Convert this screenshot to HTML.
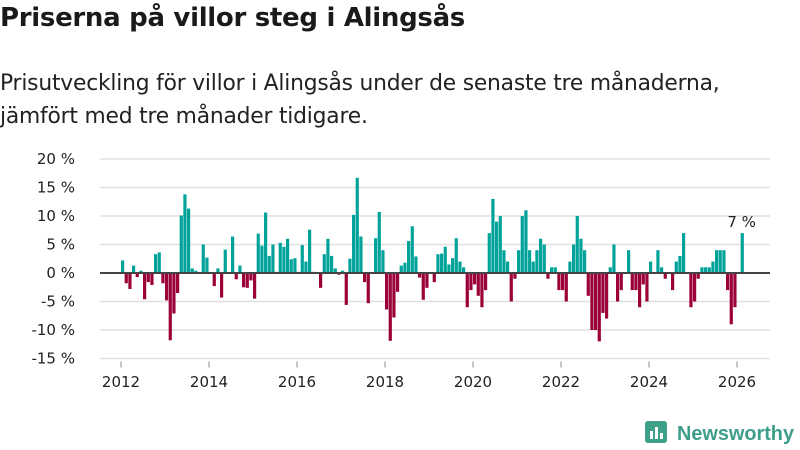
<!DOCTYPE html>
<html><head><meta charset="utf-8">
<style>
body{margin:0;width:800px;height:450px;background:#fff;font-family:"Liberation Sans","DejaVu Sans",sans-serif;overflow:hidden;position:relative}
h1{position:absolute;left:0;top:3px;margin:0;font-size:26px;font-weight:bold;color:#1a1a1a;font-family:"DejaVu Sans","Liberation Sans",sans-serif;letter-spacing:-0.3px}
.sub{position:absolute;left:0;top:67px;font-size:21.8px;line-height:33px;color:#222;font-family:"DejaVu Sans","Liberation Sans",sans-serif;letter-spacing:-0.2px}
svg{position:absolute;left:0;top:0}
</style></head><body>
<h1>Priserna på villor steg i Alingsås</h1>
<div class="sub">Prisutveckling för villor i Alingsås under de senaste tre månaderna,<br>jämfört med tre månader tidigare.</div>
<svg id="chart" width="800" height="450"></svg>
<script>
const startYear = 2012;
const values = [2.2,-1.8,-2.8,1.3,-0.7,0.4,-4.6,-1.6,-2.1,3.3,3.6,-1.8,-4.8,-11.8,-7.1,-3.5,10.1,13.8,11.3,0.8,0.4,0,5.0,2.7,0,-2.3,0.8,-4.3,4.1,0,6.4,-1.1,1.3,-2.5,-2.6,-1.3,-4.5,6.9,4.8,10.6,3.0,5.0,0.2,5.3,
4.6,6.0,2.4,2.6,0.2,4.9,2.0,7.6,0.2,0,-2.6,3.3,6.0,3.0,0.8,-0.3,0.4,-5.6,2.5,10.2,16.7,6.4,-1.6,-5.3,0,6.1,10.7,4.0,-6.4,-11.9,-7.8,-3.3,1.3,1.8,5.6,8.2,2.9,-0.8,-4.7,-2.6,0,-1.6,
3.3,3.4,4.6,1.5,2.6,6.1,2.0,1.0,-6,-3,-2,-4,-6,-3,7,13,9,10,4,2,-5,-1,4,10,11,4,2,4,6,5,-1,1,1,-3,-3,-5,2,5,10,6,4,-4,-10,-10,-12,-7,-8,
1,5,-5,-3,0,4,-3,-3,-6,-2,-5,2,0,4,1,-1,0,-3,2,3,7,0,-6,-5,-1,1,1,1,2,4,4,4,-3,-9,-6,0,7];
const yTicks = [20,15,10,5,0,-5,-10,-15];
const xTicks = [2012,2014,2016,2018,2020,2022,2024,2026];
const lastLabel = "7 %";
const NS="http://www.w3.org/2000/svg";
const svg=document.getElementById('chart');
const x=t=>121+(t-2012)*44;
const y=v=>273-v*5.7;
function mk(tag,a){const e=document.createElementNS(NS,tag);for(const k in a)e.setAttribute(k,a[k]);svg.appendChild(e);return e;}
yTicks.forEach(v=>{
  const g=mk('line',{x1:100,x2:770,y1:y(v),y2:y(v),stroke:'#e0e0e0','stroke-width':1.5});
  
  
  const t=mk('text',{x:75,y:y(v)+5,'text-anchor':'end','font-size':15,fill:'#222','font-family':'DejaVu Sans, Liberation Sans, sans-serif'});
  t.textContent=v+' %';
  
  
});
xTicks.forEach(yr=>{
  const l=mk('line',{x1:x(yr),x2:x(yr),y1:y(-15)+3,y2:y(-15)+9,stroke:'#888','stroke-width':1});
  
  
  const t=mk('text',{x:x(yr),y:387,'text-anchor':'middle','font-size':15,fill:'#222','font-family':'DejaVu Sans, Liberation Sans, sans-serif'});
  t.textContent=yr;
  
  
});
values.forEach((v,i)=>{
  const x0=x(startYear+i/12);
  const r=mk('rect',{x:x0,width:3.2,y:v>=0?y(v):y(0),height:Math.abs(y(v)-y(0)),fill:v>=0?'#00a39a':'#9b0039'});
  
  
});
const base=mk('line',{x1:100,x2:770,y1:y(0),y2:y(0),stroke:'#444','stroke-width':2});


const li=values.length-1;
const lab=mk('text',{x:x(startYear+li/12)+1,y:y(values[li])-6,'text-anchor':'middle','font-size':15,fill:'#222','font-family':'DejaVu Sans, Liberation Sans, sans-serif'});
lab.textContent=lastLabel;


</script>
<svg width="800" height="450">
<rect x="645" y="421" width="22" height="22" rx="3" fill="#3d9e8a"/>
<rect x="650" y="431" width="3" height="8" fill="#fff"/><rect x="655" y="427" width="3" height="12" fill="#fff"/><rect x="660" y="433" width="3" height="6" fill="#fff"/>
<text x="677" y="440" font-size="20" font-weight="bold" fill="#3d9e8a" font-family="Liberation Sans, sans-serif" textLength="117" lengthAdjust="spacingAndGlyphs">Newsworthy</text>
</svg>
</body></html>
